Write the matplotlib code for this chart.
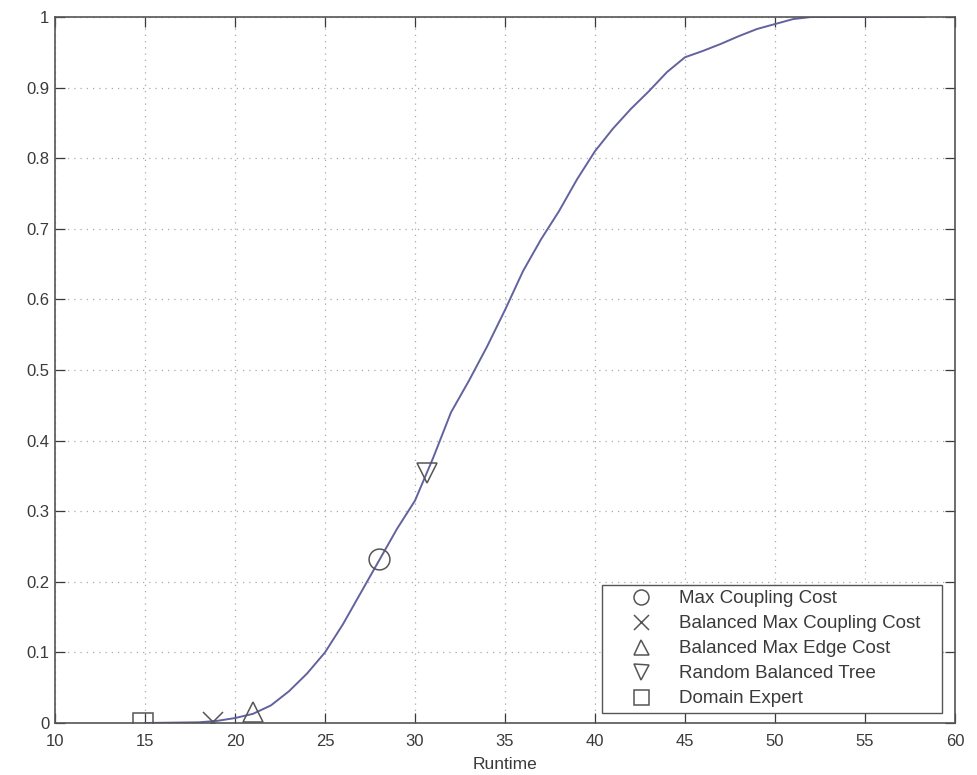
import matplotlib
matplotlib.use("Agg")
import matplotlib.pyplot as plt
import numpy as np

plt.rcParams["font.family"] = ["Liberation Sans", "DejaVu Sans"]

runtime = [15, 18, 19, 20, 21, 22, 23, 24, 25, 26, 27, 28, 29, 30, 31, 32, 33,
           34, 35, 36, 37, 38, 39, 40, 41, 42, 43, 44, 45, 46, 47, 48, 49, 50,
           51, 52, 58.3]
cdf = [0, 0.001, 0.003, 0.007, 0.013, 0.025, 0.045, 0.07, 0.1, 0.14, 0.185,
       0.23, 0.275, 0.315, 0.375, 0.44, 0.485, 0.533, 0.585, 0.64, 0.685,
       0.725, 0.77, 0.81, 0.842, 0.87, 0.895, 0.922, 0.943, 0.952, 0.962,
       0.973, 0.983, 0.99, 0.997, 1.0, 1.0]

# individual methods
method_names = ["Max Coupling Cost", "Balanced Max Coupling Cost",
                "Balanced Max Edge Cost", "Random Balanced Tree",
                "Domain Expert"]
method_x = [28.0, 18.8, 21.0, 30.65, 14.9]
method_y = [0.232, 0.002, 0.015, 0.354, 0.0]
method_markers = ["o", "x", "^", "v", "s"]

xticks = [10, 15, 20, 25, 30, 35, 40, 45, 50, 55, 60]
yticks = [0, 0.1, 0.2, 0.3, 0.4, 0.5, 0.6, 0.7, 0.8, 0.9, 1]
ytick_labels = ["0", "0.1", "0.2", "0.3", "0.4", "0.5", "0.6", "0.7", "0.8",
                "0.9", "1"]

fig = plt.figure(figsize=(9.78, 7.75), dpi=100)
ax = fig.add_axes([55 / 978, 1 - 723 / 775, 900 / 978, 706 / 775])

ax.plot(runtime, cdf, color="#62629f", lw=1.4, zorder=2)

for name, mx, my, mk in zip(method_names, method_x, method_y, method_markers):
    ax.plot(mx, my, linestyle="none", marker=mk, markersize=15,
            markerfacecolor="none", markeredgecolor="#555555",
            markeredgewidth=1.1, label=name, zorder=3)

ax.set_xlim(10, 60)
ax.set_ylim(0, 1)
ax.set_xticks(xticks)
ax.set_xticklabels([str(v) for v in xticks])
ax.set_yticks(yticks)
ax.set_yticklabels(ytick_labels)
ax.tick_params(direction="in", length=7, width=0.9, top=True, right=True,
               labelsize=12, colors="#3a3a3a")
ax.tick_params(axis="x", pad=8)
ax.tick_params(axis="y", pad=4)
ax.grid(True, linestyle=(0, (1, 4)), color="#aaaaaa", linewidth=0.9)
for sp in ax.spines.values():
    sp.set_color("#555555")
    sp.set_linewidth(1.2)

ax.set_xlabel("Runtime", fontsize=12.5, color="#3a3a3a", labelpad=6)

# legend box spans the same width as in the original figure
lx0, ly0 = 602 / 978, 1 - 713 / 775
leg = ax.legend(loc="lower left",
                bbox_to_anchor=(lx0, ly0, 942 / 978 - lx0, 0.1),
                bbox_transform=fig.transFigure, mode="expand",
                borderaxespad=0, fancybox=False, framealpha=1,
                edgecolor="#555555", fontsize=13.5, labelspacing=0.42,
                handlelength=3.6, handletextpad=0.2, borderpad=0.3,
                markerscale=0.72)
leg.get_frame().set_linewidth(1.0)
for txt in leg.get_texts():
    txt.set_color("#3a3a3a")

fig.savefig("out.png", dpi=100)
